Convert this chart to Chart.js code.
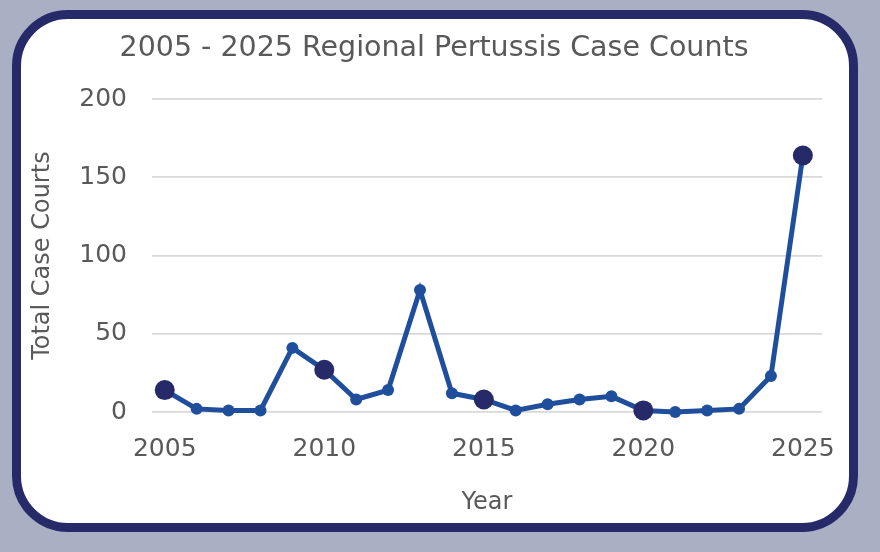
<!DOCTYPE html>
<html>
<head>
<meta charset="utf-8">
<script src="https://cdn.jsdelivr.net/npm/chart.js@4"></script>
<style>
  html, body { margin: 0; padding: 0; }
  body { width: 880px; height: 552px; background: #aab0c4; position: relative; overflow: hidden; }
  .card {
    position: absolute; left: 12px; top: 10px; width: 828px; height: 504px;
    border: 9px solid #262a69; border-radius: 56px; background: #fff;
  }
  #wrap { position: absolute; left: 0; top: 0; width: 880px; height: 552px; }
</style>
</head>
<body>
<div class="card"></div>
<div id="wrap"><canvas id="chart"></canvas></div>
<script>
// --- data ---
const years = [2005, 2006, 2007, 2008, 2009, 2010, 2011, 2012, 2013, 2014, 2015,
               2016, 2017, 2018, 2019, 2020, 2021, 2022, 2023, 2024, 2025];
const cases = [14, 2, 1, 1, 41, 27, 8, 14, 78, 12, 8, 1, 5, 8, 10, 1, 0, 1, 2, 23, 164];
const xTicks = [2005, 2010, 2015, 2020, 2025];
const yTicks = [0, 50, 100, 150, 200];

const textGray = '#595959';
const lineBlue = '#1f4f9c';
const navy = '#262a69';
const font = 'DejaVu Sans';

const pts = years.map((y, i) => ({ x: y, y: cases[i] }));
const isMajor = years.map(y => xTicks.includes(y));

new Chart(document.getElementById('chart'), {
  type: 'line',
  data: {
    datasets: [{
      data: pts,
      borderColor: lineBlue,
      borderWidth: 5,
      tension: 0,
      clip: false,
      pointRadius: isMajor.map(m => m ? 10 : 6),
      pointHoverRadius: isMajor.map(m => m ? 10 : 6),
      pointBackgroundColor: isMajor.map(m => m ? navy : lineBlue),
      pointBorderWidth: 0
    }]
  },
  options: {
    responsive: true,
    maintainAspectRatio: false,
    animation: false,
    // left padding set so the title centres on the card, the y axis width makes up the rest
    layout: { padding: { top: 20, left: 46, right: 58, bottom: 30 } },
    plugins: {
      legend: { display: false },
      tooltip: { enabled: false },
      title: {
        display: true,
        text: '2005 - 2025 Regional Pertussis Case Counts',
        color: textGray,
        font: { family: font, size: 28.5, weight: 'normal' },
        padding: { top: 11, bottom: 34 }
      }
    },
    scales: {
      x: {
        type: 'linear',
        min: 2004.6,
        max: 2025.6,
        afterBuildTicks: (s) => { s.ticks = xTicks.map(v => ({ value: v })); },
        afterFit: (s) => { s.height = 110; },
        grid: { display: false, drawTicks: false },
        border: { display: false },
        ticks: {
          callback: (v) => String(v),
          color: textGray,
          font: { family: font, size: 25 },
          padding: 22,
          maxRotation: 0
        },
        title: {
          display: true,
          text: 'Year',
          color: textGray,
          font: { family: font, size: 24 },
          padding: { top: 0, bottom: 5 }
        }
      },
      y: {
        min: 0,
        max: 200,
        afterBuildTicks: (s) => { s.ticks = yTicks.map(v => ({ value: v })); },
        afterFit: (s) => { s.width = 106; },
        grid: { color: '#d9d9d9', lineWidth: 1.8, drawTicks: false },
        border: { display: false },
        ticks: {
          color: textGray,
          font: { family: font, size: 25 },
          padding: 25
        },
        title: {
          display: true,
          text: 'Total Case Courts',
          color: textGray,
          font: { family: font, size: 24 },
          padding: { top: -18, bottom: 0 }
        }
      }
    }
  }
});
</script>
</body>
</html>
